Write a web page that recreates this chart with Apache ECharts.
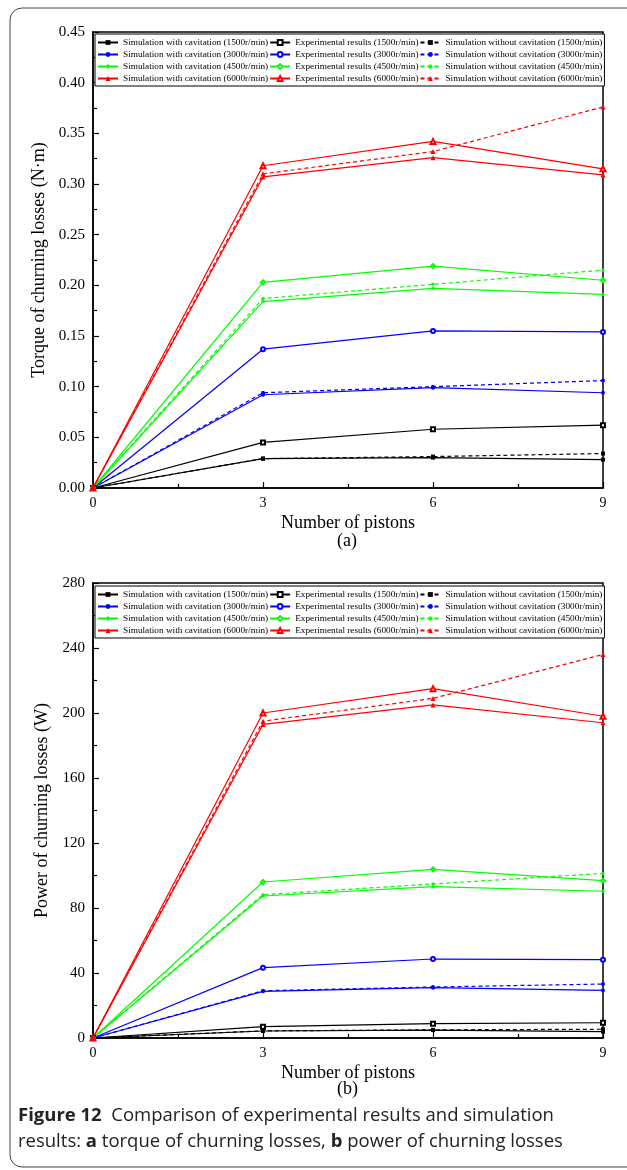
<!DOCTYPE html>
<html>
<head>
<meta charset="utf-8">
<script src="https://cdn.jsdelivr.net/npm/echarts@6/dist/echarts.min.js"></script>
<style>
  html, body { margin: 0; padding: 0; background: #fff; }
  #chart { width: 627px; height: 1170px; }
</style>
</head>
<body>
<div id="chart"></div>
<script>
// 横轴：活塞数
const pistons = [0, 3, 6, 9];
const speeds = ['1500', '3000', '4500', '6000'];
const colors = ['#000000', '#0000ff', '#00ff00', '#ff0000'];
const symbols = ['rect', 'circle', 'diamond', 'triangle'];

// 扭矩 (N·m)，按转速 1500/3000/4500/6000 排列
const torqueSimWith = [
  [0, 0.029, 0.030, 0.028],
  [0, 0.092, 0.099, 0.094],
  [0, 0.184, 0.197, 0.191],
  [0, 0.307, 0.326, 0.309]
];
const torqueExp = [
  [0, 0.045, 0.058, 0.062],
  [0, 0.137, 0.155, 0.154],
  [0, 0.203, 0.219, 0.205],
  [0, 0.318, 0.342, 0.315]
];
const torqueSimWithout = [
  [0, 0.029, 0.031, 0.034],
  [0, 0.094, 0.100, 0.106],
  [0, 0.187, 0.201, 0.215],
  [0, 0.310, 0.332, 0.376]
];

// 功率 (W)
const powerSimWith = [
  [0, 4.3, 4.9, 3.9],
  [0, 28.7, 31.0, 29.3],
  [0, 87.4, 93.1, 90.3],
  [0, 193, 205, 194]
];
const powerExp = [
  [0, 7.0, 8.8, 9.4],
  [0, 43.3, 48.6, 48.2],
  [0, 96, 103.8, 96.8],
  [0, 200, 215, 198]
];
const powerSimWithout = [
  [0, 4.4, 5.0, 5.4],
  [0, 29.1, 31.4, 33.2],
  [0, 88.2, 94.8, 101.3],
  [0, 195, 209, 236]
];

const serif = 'Liberation Serif';

const pairs = (ys) => pistons.map((x, i) => [x, ys[i]]);

// 生成一个子图的 12 条曲线
const buildSeries = (gridIdx, simWith, exp, simWithout) => {
  const list = [];
  speeds.forEach((sp, k) => {
    const base = {
      type: 'line',
      xAxisIndex: gridIdx,
      yAxisIndex: gridIdx,
      symbolSize: k === 3 ? 5 : 4,
      color: colors[k],
      animation: false
    };
    list.push(Object.assign({}, base, {
      name: 'Simulation with cavitation (' + sp + 'r/min)',
      symbol: symbols[k],
      lineStyle: { width: 1.2, color: colors[k] },
      data: pairs(simWith[k])
    }));
    list.push(Object.assign({}, base, {
      name: 'Experimental results (' + sp + 'r/min)',
      symbol: 'empty' + symbols[k].charAt(0).toUpperCase() + symbols[k].slice(1),
      lineStyle: { width: 1.2, color: colors[k] },
      data: pairs(exp[k])
    }));
    list.push(Object.assign({}, base, {
      name: 'Simulation without cavitation (' + sp + 'r/min)',
      symbol: symbols[k],
      lineStyle: { width: 1.2, type: [4, 3], color: colors[k] },
      data: pairs(simWithout[k])
    }));
  });
  return list;
};

const legendNames = [];
speeds.forEach((sp) => {
  legendNames.push('Simulation with cavitation (' + sp + 'r/min)');
  legendNames.push('Experimental results (' + sp + 'r/min)');
  legendNames.push('Simulation without cavitation (' + sp + 'r/min)');
});

const makeLegend = (top) => ({
  data: legendNames,
  left: 95,
  top: top,
  width: 540,
  orient: 'horizontal',
  itemWidth: 20,
  itemHeight: 6,
  itemGap: 1,
  padding: [3, 2, 2, 2],
  borderColor: '#000',
  borderWidth: 1,
  backgroundColor: '#fff',
  textStyle: { fontFamily: serif, fontSize: 9.25, color: '#000', lineHeight: 11 }
});

const makeX = (gridIdx) => ({
  type: 'value',
  gridIndex: gridIdx,
  min: 0,
  max: 9,
  interval: 3,
  name: 'Number of pistons',
  nameLocation: 'middle',
  nameGap: 26,
  nameTextStyle: { fontFamily: serif, fontSize: 18, color: '#000' },
  axisLine: { lineStyle: { color: '#000', width: 1.5 } },
  axisTick: { inside: true, length: 6, lineStyle: { color: '#000', width: 1.2 } },
  minorTick: { show: true, splitNumber: 2, length: 4, lineStyle: { color: '#000', width: 1.2 } },
  axisLabel: { fontFamily: serif, fontSize: 14, color: '#000', margin: 8 },
  splitLine: { show: false }
});

const makeY = (gridIdx, max, interval, name, fmt) => ({
  type: 'value',
  gridIndex: gridIdx,
  min: 0,
  max: max,
  interval: interval,
  name: name,
  nameLocation: 'middle',
  nameGap: 38,
  nameTextStyle: { fontFamily: serif, fontSize: 18, color: '#000' },
  axisLine: { show: true, lineStyle: { color: '#000', width: 1.5 } },
  axisTick: { show: true, inside: true, length: 6, lineStyle: { color: '#000', width: 1.2 } },
  minorTick: { show: true, splitNumber: 2, length: 4, lineStyle: { color: '#000', width: 1.2 } },
  axisLabel: { fontFamily: serif, fontSize: 15, color: '#000', margin: 8, formatter: fmt },
  splitLine: { show: false }
});

const myChart = echarts.init(document.getElementById('chart'));

const richBold = { b: { fontFamily: 'Open Sans', fontSize: 18.5, fontWeight: 'bold', fill: '#222' } };

const option = {
  backgroundColor: '#fff',
  animation: false,
  grid: [
    { left: 93, right: 24, top: 32, height: 456, show: true, borderColor: '#000', borderWidth: 1.5, backgroundColor: 'transparent' },
    { left: 93, right: 24, top: 583, height: 455, show: true, borderColor: '#000', borderWidth: 1.5, backgroundColor: 'transparent' }
  ],
  legend: [makeLegend(34), makeLegend(586)],
  xAxis: [makeX(0), makeX(1)],
  yAxis: [
    makeY(0, 0.45, 0.05, 'Torque of churning losses (N·m)', (v) => v.toFixed(2)),
    makeY(1, 280, 40, 'Power of churning losses (W)', (v) => String(v))
  ],
  series: buildSeries(0, torqueSimWith, torqueExp, torqueSimWithout)
    .concat(buildSeries(1, powerSimWith, powerExp, powerSimWithout)),
  graphic: [
    {
      type: 'rect',
      shape: { x: 10, y: 8, width: 700, height: 1159, r: 12 },
      style: { fill: 'none', stroke: '#444', lineWidth: 1 },
      silent: true
    },
    {
      type: 'text', left: 337, top: 532,
      style: { text: '(a)', font: '18px "Liberation Serif"', fill: '#000' }
    },
    {
      type: 'text', left: 337, top: 1080,
      style: { text: '(b)', font: '18px "Liberation Serif"', fill: '#000' }
    },
    {
      type: 'text', left: 18, top: 1106,
      style: {
        text: '{b|Figure 12}  Comparison of experimental results and simulation',
        font: '18.5px "Open Sans"',
        fill: '#222',
        rich: richBold
      }
    },
    {
      type: 'text', left: 18, top: 1132,
      style: {
        text: 'results: {b|a} torque of churning losses, {b|b} power of churning losses',
        font: '18.5px "Open Sans"',
        fill: '#222',
        rich: richBold
      }
    }
  ]
};

myChart.setOption(option);

window.addEventListener('resize', () => {
  myChart.resize();
});
</script>
</body>
</html>
